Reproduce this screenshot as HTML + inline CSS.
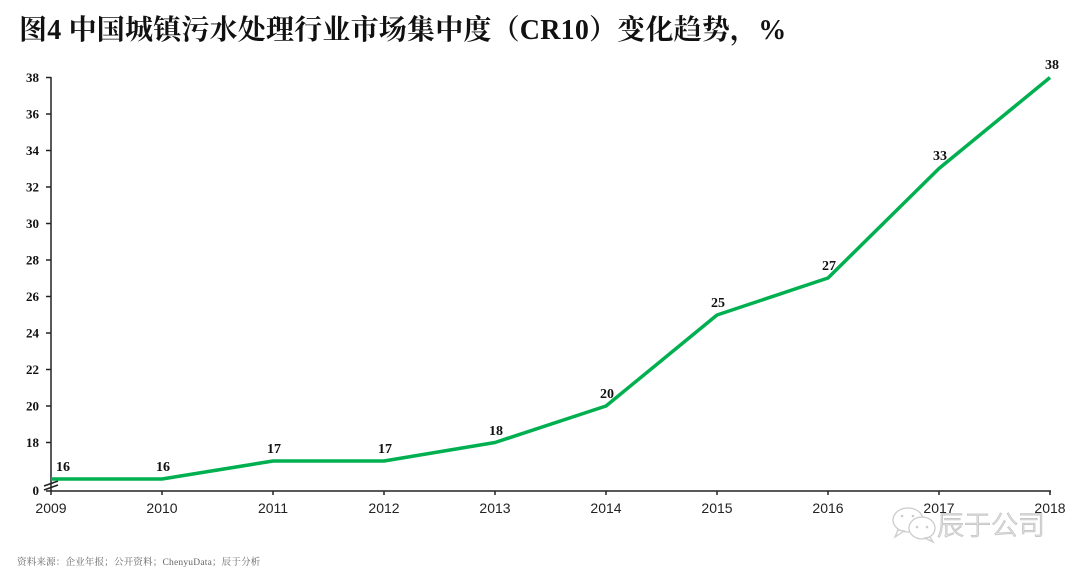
<!DOCTYPE html>
<html><head><meta charset="utf-8"><style>
html,body{margin:0;padding:0;background:#fff;}
body{width:1080px;height:573px;overflow:hidden;position:relative;}
.title{position:absolute;left:19px;top:8px;font-family:"Liberation Serif","Noto Serif CJK SC",serif;font-weight:bold;font-size:28px;color:#111;white-space:nowrap;letter-spacing:0.2px;}
</style></head><body>
<div class="title">图4 中国城镇污水处理行业市场集中度（CR10）变化趋势，%</div>
<svg width="1080" height="573" style="position:absolute;left:0;top:0" xmlns="http://www.w3.org/2000/svg">
<g stroke="#222" stroke-width="1.5" fill="none">
<line x1="51" y1="77" x2="51" y2="491"/>
<line x1="50.5" y1="491" x2="1051" y2="491"/>
<line x1="46" y1="77.5" x2="51" y2="77.5"/>
<line x1="46" y1="114" x2="51" y2="114"/>
<line x1="46" y1="150.5" x2="51" y2="150.5"/>
<line x1="46" y1="187" x2="51" y2="187"/>
<line x1="46" y1="223.5" x2="51" y2="223.5"/>
<line x1="46" y1="260" x2="51" y2="260"/>
<line x1="46" y1="296.5" x2="51" y2="296.5"/>
<line x1="46" y1="333" x2="51" y2="333"/>
<line x1="46" y1="369.5" x2="51" y2="369.5"/>
<line x1="46" y1="406" x2="51" y2="406"/>
<line x1="46" y1="442.5" x2="51" y2="442.5"/>
<line x1="46" y1="491" x2="51" y2="491"/>
<line x1="51" y1="491" x2="51" y2="495"/>
<line x1="162" y1="491" x2="162" y2="495"/>
<line x1="273" y1="491" x2="273" y2="495"/>
<line x1="384" y1="491" x2="384" y2="495"/>
<line x1="495" y1="491" x2="495" y2="495"/>
<line x1="606" y1="491" x2="606" y2="495"/>
<line x1="717" y1="491" x2="717" y2="495"/>
<line x1="828" y1="491" x2="828" y2="495"/>
<line x1="939" y1="491" x2="939" y2="495"/>
<line x1="1050" y1="491" x2="1050" y2="495"/>
<line x1="44" y1="486" x2="58" y2="481"/>
<line x1="44" y1="490" x2="58" y2="485"/>
</g>
<g font-family="Liberation Serif, serif" font-weight="bold" font-size="13" fill="#111" text-anchor="end">
<text x="39" y="82">38</text>
<text x="39" y="118.5">36</text>
<text x="39" y="155">34</text>
<text x="39" y="191.5">32</text>
<text x="39" y="228">30</text>
<text x="39" y="264.5">28</text>
<text x="39" y="301">26</text>
<text x="39" y="337.5">24</text>
<text x="39" y="374">22</text>
<text x="39" y="410.5">20</text>
<text x="39" y="447">18</text>
<text x="39" y="495">0</text>
</g>
<g font-family="Liberation Sans, sans-serif" font-size="14" fill="#222" text-anchor="middle">
<text x="51" y="513">2009</text>
<text x="162" y="513">2010</text>
<text x="273" y="513">2011</text>
<text x="384" y="513">2012</text>
<text x="495" y="513">2013</text>
<text x="606" y="513">2014</text>
<text x="717" y="513">2015</text>
<text x="828" y="513">2016</text>
<text x="939" y="513">2017</text>
<text x="1050" y="513">2018</text>
</g>
<polyline fill="none" stroke="#00B050" stroke-width="3.5" stroke-linejoin="round" points="51,479 162,479 273,461 384,461 495,442.5 606,406 717,315 828,278 939,168.5 1050,77.5"/>
<g font-family="Liberation Serif, serif" font-weight="bold" font-size="14" fill="#111" text-anchor="middle">
<text x="63" y="471">16</text>
<text x="163" y="471">16</text>
<text x="274" y="453">17</text>
<text x="385" y="453">17</text>
<text x="496" y="435">18</text>
<text x="607" y="398">20</text>
<text x="718" y="307">25</text>
<text x="829" y="270">27</text>
<text x="940" y="160">33</text>
<text x="1052" y="69">38</text>
</g>
<g fill="#fff" stroke="#cccccc" stroke-width="1.3">
<ellipse cx="908" cy="520" rx="15" ry="12"/>
<path d="M898 530 L895 537 L904 531 Z"/>
<ellipse cx="922" cy="528" rx="13" ry="11"/>
<path d="M930 537 L933 542 L925 538 Z"/>
</g>
<g fill="#cccccc">
<circle cx="902" cy="516" r="1.3"/><circle cx="913" cy="516" r="1.3"/>
<circle cx="917" cy="527" r="1.3"/><circle cx="927" cy="527" r="1.3"/>
</g>
<text x="937" y="535" font-family="Noto Sans CJK SC, sans-serif" font-size="27" font-weight="300" fill="#fff" stroke="#c8c8c8" stroke-width="1">辰于公司</text>
<text x="17" y="565" font-family="Liberation Serif, Noto Serif CJK SC, serif" font-size="9.5" letter-spacing="0.2" fill="#666">资料来源：企业年报；公开资料；ChenyuData；辰于分析</text>
</svg>
</body></html>
